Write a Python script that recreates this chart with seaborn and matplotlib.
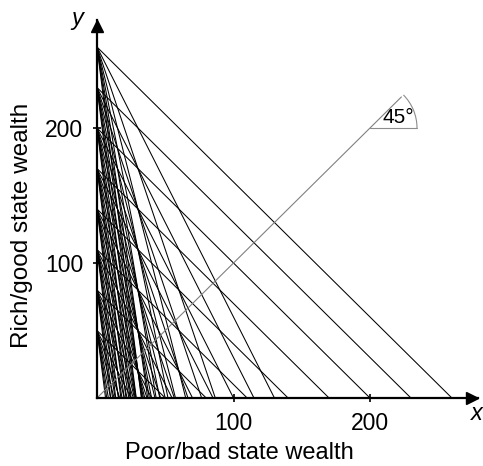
import matplotlib
matplotlib.use("Agg")
import matplotlib.pyplot as plt
import pandas as pd
import seaborn as sns
from matplotlib.patches import Arc

# Good-state endowment levels (y-intercepts) and relative prices of bad-state wealth
wealth_levels = [50, 80, 110, 140, 170, 200, 230, 260]
price_ratios = [1, 2, 3, 4, 5, 6, 7, 8]
tick_values = [100, 200]
tick_labels = ["100", "200"]
certainty_end = 223      # how far the 45-degree certainty line runs
angle_vertex = 200       # point on the certainty line where the angle is marked
angle_label = "45°"

# One straight budget line per (wealth, price) pair, from the y-intercept to the x-intercept
rows = []
for w in wealth_levels:
    for p in price_ratios:
        key = f"{w}-{p}"
        rows.append({"line": key, "x": 0.0, "y": float(w)})
        rows.append({"line": key, "x": w / p, "y": 0.0})
budget = pd.DataFrame(rows)

certainty = pd.DataFrame({"x": [0, certainty_end], "y": [0, certainty_end]})

sns.set_style("white")
plt.rcParams["font.family"] = ["Liberation Sans", "DejaVu Sans"]
plt.rcParams["text.color"] = "black"
plt.rcParams["axes.labelcolor"] = "black"

W, H = 483, 466
fig = plt.figure(figsize=(W / 100, H / 100), dpi=100)
x_max, y_max = 279, 280
ax = fig.add_axes([97 / W, 68 / H, x_max * 1.365 / W, y_max * 1.35 / H])

sns.lineplot(data=budget, x="x", y="y", units="line", estimator=None, sort=False,
             color="black", linewidth=0.75, ax=ax, legend=False)
sns.lineplot(data=certainty, x="x", y="y", sort=False, color="0.5",
             linewidth=0.8, ax=ax, legend=False)

# Angle mark at the certainty line
r_px = 47
ax.plot([angle_vertex, angle_vertex + r_px / 1.365], [angle_vertex, angle_vertex],
        color="0.55", linewidth=0.8)
ax.add_patch(Arc((angle_vertex, angle_vertex), 2 * r_px / 1.365, 2 * r_px / 1.35,
                 theta1=0, theta2=45, color="0.55", linewidth=0.8))
ax.text(angle_vertex + 21.0, angle_vertex + 7.5, angle_label, ha="center",
        va="center", fontsize=15, color="black")

ax.set_xlim(0, x_max)
ax.set_ylim(0, y_max)
ax.set_xticks(tick_values)
ax.set_xticklabels(tick_labels)
ax.set_yticks(tick_values)
ax.set_yticklabels(tick_labels)
ax.tick_params(direction="inout", length=6, width=1.2, colors="black",
               labelcolor="black", labelsize=16.5, bottom=True, left=True)
ax.tick_params(axis="x", pad=7)
ax.tick_params(axis="y", pad=7)

for side in ["top", "right"]:
    ax.spines[side].set_visible(False)
for side in ["left", "bottom"]:
    ax.spines[side].set_linewidth(1.6)
    ax.spines[side].set_color("black")

# Arrow heads on the axes
ax.plot(x_max - 4.5, 0, marker=">", color="black", markersize=9, clip_on=False)
ax.plot(0, y_max - 4.6, marker="^", color="black", markersize=9, clip_on=False)

ax.set_xlabel("Poor/bad state wealth", fontsize=17, color="black")
ax.xaxis.set_label_coords(0.373, -0.145)
ax.xaxis.label.set_va("center")
ax.set_ylabel("Rich/good state wealth", fontsize=17.5, color="black")
ax.yaxis.set_label_coords(-0.196, 0.458)
ax.yaxis.label.set_va("center")

ax.text(-0.052, 1.005, "y", transform=ax.transAxes, fontsize=17, style="italic",
        ha="center", va="center", color="black")
ax.text(0.997, -0.04, "x", transform=ax.transAxes, fontsize=17, style="italic",
        ha="center", va="center", color="black")

fig.savefig("out.png", dpi=100)
